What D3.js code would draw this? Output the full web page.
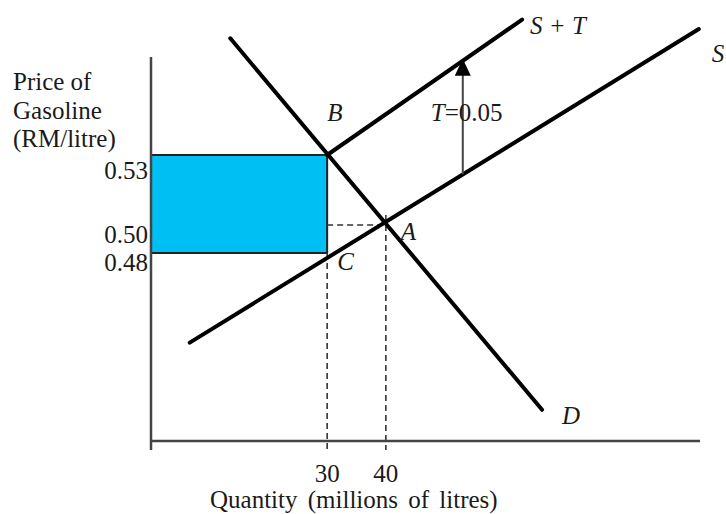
<!DOCTYPE html>
<html>
<head>
<meta charset="utf-8">
<script src="https://cdn.jsdelivr.net/npm/d3@7"></script>
<style>
  html, body { margin: 0; padding: 0; background: #fff; }
  svg { display: block; }
  text { font-family: "Liberation Serif", "Times New Roman", serif; fill: #1a1a1a; }
</style>
</head>
<body>
<svg id="chart" width="726" height="514"></svg>
<script>
// Gasoline market with a per-litre tax of RM0.05
const priceTicks = [0.53, 0.50, 0.48];
const priceTickLabels = ["0.53", "0.50", "0.48"];
const quantityTicks = [30, 40];
const quantityTickLabels = ["30", "40"];

// Equilibrium points (quantity in millions of litres, price in RM/litre)
const pointNames = ["B", "A", "C"];
const pointQuantity = [30, 40, 30];
const pointPrice = [0.53, 0.50, 0.48];

// Curve end points
const demandQ = [13.5, 66.6];
const demandP = [0.58, 0.368];
const supplyQ = [6.6, 93.3];
const supplyP = [0.416, 0.584];
const supplyTaxQ = [30, 63.2];
const supplyTaxP = [0.53, 0.588];

const taxAmount = 0.05;
const taxArrowQ = 53.1;

const FS = 25;
const svg = d3.select("#chart");

const x = d3.scaleLinear().domain([0, 93.5]).range([151, 700]);
// The price axis is drawn with uneven spacing between the marked prices
const y = d3.scaleLinear().domain([0.48, 0.50, 0.53]).range([253, 225, 155]);
const yTop = 57, yBase = 441, yBelow = 450;

const pt = (q, p) => ({ q, p });
const curve = (qs, ps) => qs.map((q, i) => pt(q, ps[i]));
const line = d3.line().x(d => x(d.q)).y(d => y(d.p));

// Tax revenue rectangle
svg.append("rect")
  .attr("x", x(0))
  .attr("y", y(pointPrice[0]))
  .attr("width", x(pointQuantity[0]) - x(0))
  .attr("height", y(pointPrice[2]) - y(pointPrice[0]))
  .attr("fill", "#00bff2")
  .attr("stroke", "#222")
  .attr("stroke-width", 2);

// Dashed guides
const dash = svg.append("g")
  .attr("stroke", "#333").attr("stroke-width", 1.6)
  .attr("stroke-dasharray", "6,4").attr("fill", "none");
dash.append("line")
  .attr("x1", x(quantityTicks[0])).attr("x2", x(quantityTicks[0]))
  .attr("y1", y(pointPrice[2])).attr("y2", yBelow);
dash.append("line")
  .attr("x1", x(quantityTicks[1])).attr("x2", x(quantityTicks[1]))
  .attr("y1", y(pointPrice[1]) - 10).attr("y2", yBelow);
dash.append("line")
  .attr("x1", x(quantityTicks[0])).attr("x2", x(pointQuantity[1]))
  .attr("y1", y(pointPrice[1])).attr("y2", y(pointPrice[1]));

// Axes
const axes = svg.append("g").attr("stroke", "#444").attr("stroke-width", 2.5);
axes.append("line").attr("x1", x(0)).attr("x2", x(0)).attr("y1", yTop).attr("y2", yBelow);
axes.append("line").attr("x1", x(0)).attr("x2", x(93.5)).attr("y1", yBase).attr("y2", yBase);

// Curves
const curves = [
  curve(demandQ, demandP),
  curve(supplyQ, supplyP),
  curve(supplyTaxQ, supplyTaxP)
];
svg.append("g").selectAll("path").data(curves).join("path")
  .attr("d", line)
  .attr("fill", "none")
  .attr("stroke", "#000")
  .attr("stroke-width", 4)
  .attr("stroke-linecap", "round");

// Tax arrow between S and S + T
function yOnCurve(c, q) {
  const x0 = x(c[0].q), x1 = x(c[1].q), y0 = y(c[0].p), y1 = y(c[1].p);
  return y0 + (x(q) - x0) * (y1 - y0) / (x1 - x0);
}
const ax = x(taxArrowQ);
const aFrom = yOnCurve(curves[1], taxArrowQ);
const aTo = yOnCurve(curves[2], taxArrowQ);
svg.append("line")
  .attr("x1", ax).attr("x2", ax)
  .attr("y1", aFrom).attr("y2", aTo + 14)
  .attr("stroke", "#444").attr("stroke-width", 2);
svg.append("path")
  .attr("d", `M${ax},${aTo - 2} L${ax - 8},${aTo + 15} L${ax + 8},${aTo + 15} Z`)
  .attr("fill", "#000");
svg.append("text")
  .attr("x", ax - 32).attr("y", aTo + 60)
  .attr("font-size", FS)
  .html(`<tspan font-style="italic">T</tspan>=${taxAmount.toFixed(2)}`);

// Point labels
const labelOffsets = { B: [0, -34], A: [15, 15], C: [10, 17] };
svg.append("g").selectAll("text").data(pointNames).join("text")
  .attr("x", (d, i) => x(pointQuantity[i]) + labelOffsets[d][0])
  .attr("y", (d, i) => y(pointPrice[i]) + labelOffsets[d][1])
  .attr("font-size", FS).attr("font-style", "italic")
  .text(d => d);

// Curve labels
const italic = (t, xx, yy) => svg.append("text")
  .attr("x", xx).attr("y", yy).attr("font-size", FS).attr("font-style", "italic").text(t);
italic("D", x(demandQ[1]) + 20, y(demandP[1]) + 14);
italic("S + T", x(supplyTaxQ[1]) + 8, y(supplyTaxP[1]) + 14);
italic("S", x(supplyQ[1]) + 13, y(supplyP[1]) + 33);

// Price tick labels
svg.append("g").selectAll("text").data(priceTicks).join("text")
  .attr("x", x(0) - 3)
  .attr("y", (d, i) => y(d) + (i === 0 ? 24 : 18))
  .attr("text-anchor", "end")
  .attr("font-size", FS)
  .text((d, i) => priceTickLabels[i]);

// Quantity tick labels
svg.append("g").selectAll("text").data(quantityTicks).join("text")
  .attr("x", d => x(d))
  .attr("y", 482)
  .attr("text-anchor", "middle")
  .attr("font-size", FS)
  .text((d, i) => quantityTickLabels[i]);

// Axis titles
const yTitle = svg.append("text").attr("font-size", FS);
["Price of", "Gasoline", "(RM/litre)"].forEach((t, i) => {
  yTitle.append("tspan").attr("x", 13).attr("y", 90 + i * 28.5).text(t);
});
svg.append("text")
  .attr("x", 210).attr("y", 508)
  .attr("font-size", FS)
  .attr("word-spacing", 4)
  .text("Quantity (millions of litres)");
</script>
</body>
</html>
